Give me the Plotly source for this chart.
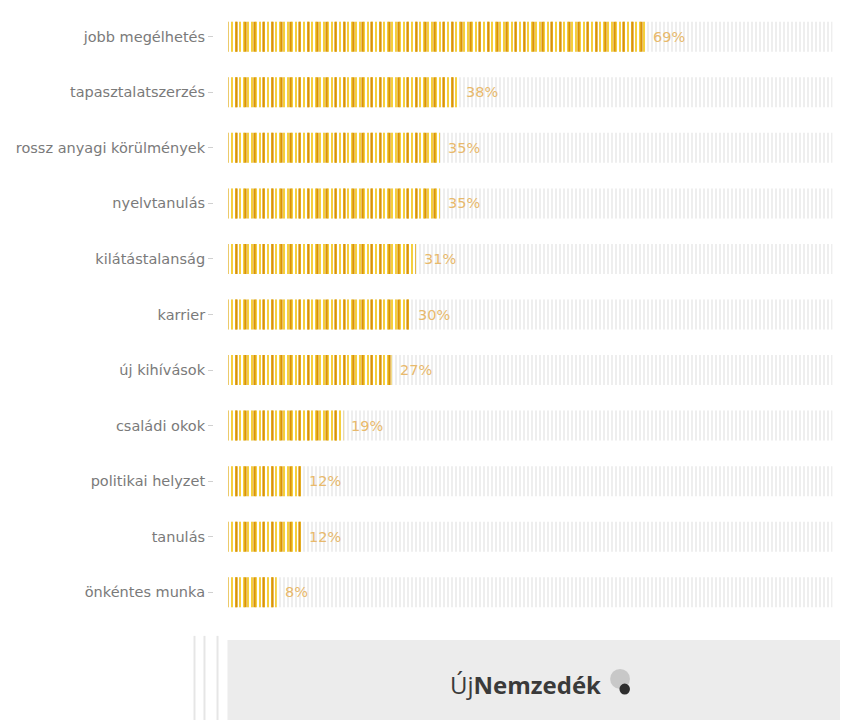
import plotly.graph_objects as go

categories = ["jobb megélhetés", "tapasztalatszerzés", "rossz anyagi körülmények",
              "nyelvtanulás", "kilátástalanság", "karrier", "új kihívások",
              "családi okok", "politikai helyzet", "tanulás", "önkéntes munka"]
values = [69, 38, 35, 35, 31, 30, 27, 19, 12, 12, 8]
track = [100] * len(categories)

fig = go.Figure()
# light grey striped track
fig.add_trace(go.Bar(
    x=track, y=categories, orientation="h", width=0.54,
    marker=dict(color="white", line=dict(width=0),
                pattern=dict(shape="|", fgcolor="#e4e4e4", bgcolor="white",
                             size=4, solidity=0.3, fillmode="replace")),
    hoverinfo="skip", showlegend=False))
# yellow stripes
fig.add_trace(go.Bar(
    x=values, y=categories, orientation="h", width=0.54,
    marker=dict(color="white", line=dict(width=0),
                pattern=dict(shape="|", fgcolor="#f3c40c", bgcolor="white",
                             size=4, solidity=0.4, fillmode="replace")),
    showlegend=False))
# orange stripes overlay
fig.add_trace(go.Bar(
    x=values, y=categories, orientation="h", width=0.54,
    marker=dict(color="rgba(0,0,0,0)", line=dict(width=0),
                pattern=dict(shape="|", fgcolor="#d9940a", bgcolor="rgba(0,0,0,0)",
                             size=9, solidity=0.25, fillmode="replace")),
    showlegend=False))

for c, v in zip(categories, values):
    fig.add_annotation(x=v, y=c, text=f"{v}%", showarrow=False, xanchor="left",
                       xshift=6, font=dict(family="DejaVu Sans", size=14.5, color="#e8b96c"))

# bottom logo box
fig.add_shape(type="rect", xref="paper", yref="paper", x0=0.0218, x1=1.04,
              y0=-0.2, y1=-0.0327, fillcolor="#ececec", line=dict(width=0), layer="below")
for xp in [-0.0315, -0.0154, 0.0057]:
    fig.add_shape(type="line", xref="paper", yref="paper", x0=xp, x1=xp,
                  y0=-0.2, y1=-0.026, line=dict(color="#e6e6e6", width=2))
fig.add_annotation(xref="paper", yref="paper", x=0.503, y=-0.106, showarrow=False,
                   xanchor="center", yanchor="middle",
                   text="Új<b>Nemzedék</b>",
                   font=dict(family="Open Sans", size=24, color="#3a3a3a"))
fig.add_shape(type="circle", xref="paper", yref="paper", x0=0.64, x1=0.672,
              y0=-0.113, y1=-0.08, fillcolor="#c8c8c8", line=dict(width=0))
fig.add_shape(type="circle", xref="paper", yref="paper", x0=0.655, x1=0.672,
              y0=-0.122, y1=-0.104, fillcolor="#2e2e2e", line=dict(width=0))

fig.update_layout(
    width=848, height=720, barmode="overlay",
    margin=dict(l=206, r=23, t=1, b=108),
    plot_bgcolor="white", paper_bgcolor="white",
    xaxis=dict(range=[-2.4, 100.1], showgrid=False, zeroline=False,
               showticklabels=False, ticks="", fixedrange=True),
    yaxis=dict(categoryorder="array", categoryarray=categories, autorange="reversed",
               ticks="outside", ticklen=5, tickcolor="#d0d0d0", showgrid=False,
               tickfont=dict(family="DejaVu Sans", size=14.5, color="#7a7a7a"),
               ticklabelstandoff=0, showline=False, automargin=False),
)

fig.write_html("out.html", config={"displayModeBar": False})
